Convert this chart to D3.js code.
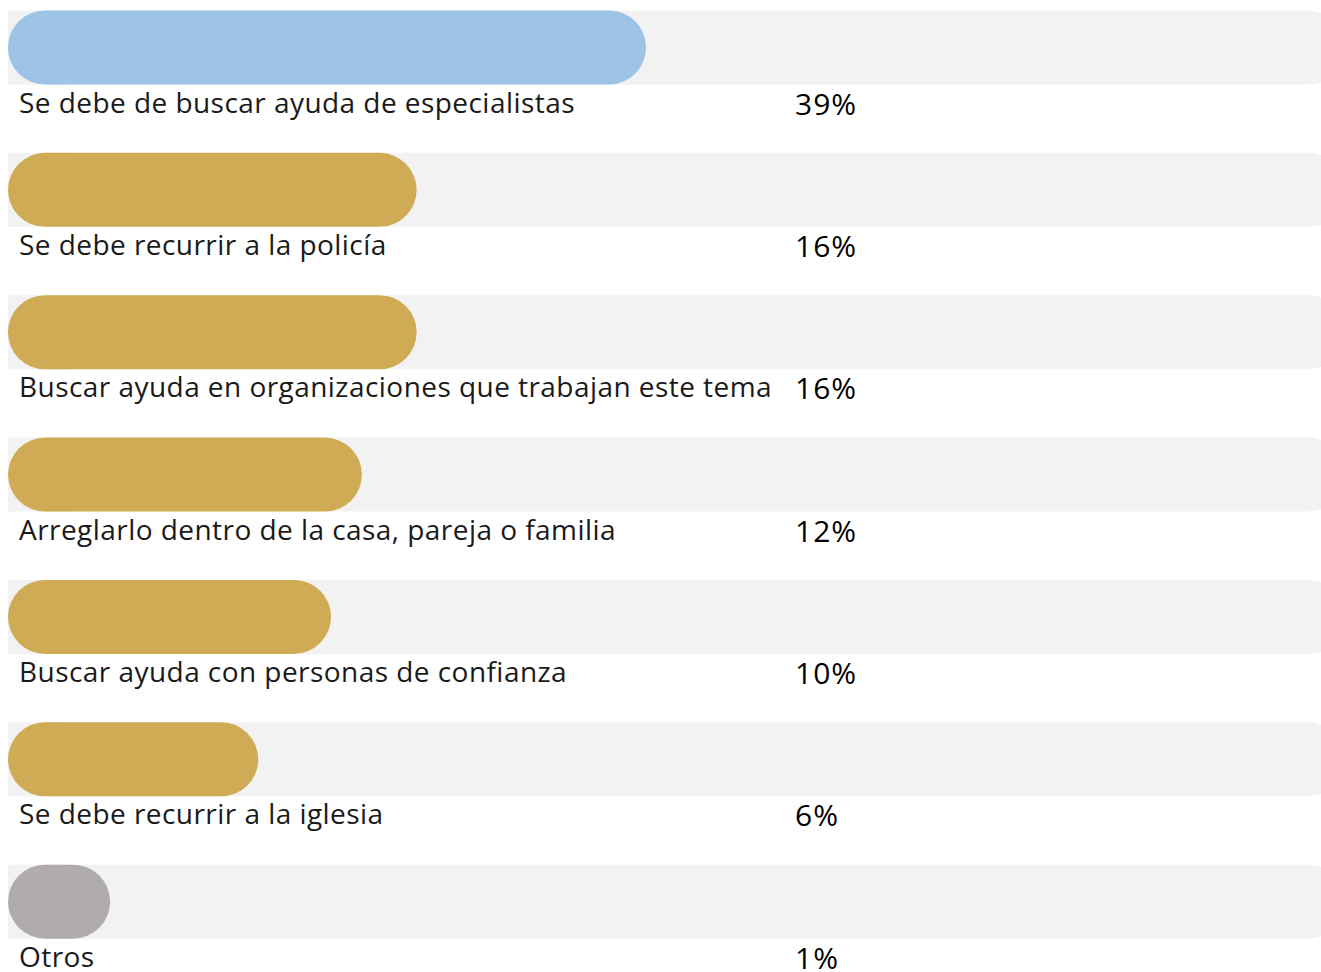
<!DOCTYPE html>
<html>
<head>
<meta charset="utf-8">
<script src="https://cdn.jsdelivr.net/npm/d3@7"></script>
<style>
  html, body { margin: 0; padding: 0; background: #fff; overflow: hidden; }
  svg { display: block; }
  .label { font-family: "Open Sans", "Noto Sans", sans-serif; font-size: 28px; letter-spacing: 0.45px; fill: #1a1a1a; }
  .pct { font-family: "Open Sans", "Noto Sans", sans-serif; font-size: 30px; letter-spacing: 1px; fill: #000; font-weight: 500; }
</style>
</head>
<body>
<svg id="chart" width="1321" height="972"></svg>
<script>
// Answers, in display order
const categories = [
  "Se debe de buscar ayuda de especialistas",
  "Se debe recurrir a la policía",
  "Buscar ayuda en organizaciones que trabajan este tema",
  "Arreglarlo dentro de la casa, pareja o familia",
  "Buscar ayuda con personas de confianza",
  "Se debe recurrir a la iglesia",
  "Otros"
];
const values = [39, 16, 16, 12, 10, 6, 1];
const valueLabels = ["39%", "16%", "16%", "12%", "10%", "6%", "1%"];
const barColors = ["#9dc3e6", "#d0ab55", "#d0ab55", "#d0ab55", "#d0ab55", "#d0ab55", "#b0acac"];

const left = 8;
const barH = 74;
const trackEnd = 1345;

const svg = d3.select("#chart");

// vertical placement of each row (top of bar)
const y = d3.scaleBand()
  .domain(categories)
  .range([10.5, 10.5 + 142.36 * categories.length])
  .paddingInner(0)
  .paddingOuter(0);

// bar length
const x = d3.scaleSqrt()
  .domain([0, d3.max(values)])
  .range([0, 638]);

const rows = svg.selectAll("g.row")
  .data(categories.map((c, i) => ({ c, v: values[i], lab: valueLabels[i], col: barColors[i] })))
  .join("g")
  .attr("class", "row")
  .attr("transform", d => `translate(0,${y(d.c)})`);

// background track
rows.append("rect")
  .attr("x", left)
  .attr("y", 0)
  .attr("width", trackEnd - left)
  .attr("height", barH)
  .attr("rx", 37)
  .attr("ry", 37)
  .attr("fill", "#f2f2f2");

// square off the track's left end (hidden under the bar)
rows.append("rect")
  .attr("x", left)
  .attr("y", 0)
  .attr("width", 60)
  .attr("height", barH)
  .attr("fill", "#f2f2f2");

// value bar
rows.append("rect")
  .attr("x", left)
  .attr("y", 0)
  .attr("width", d => x(d.v))
  .attr("height", barH)
  .attr("rx", d => Math.min(37, x(d.v) / 2))
  .attr("ry", 37)
  .attr("fill", d => d.col);

rows.append("text")
  .attr("class", "label")
  .attr("x", 19)
  .attr("y", barH + 28)
  .text(d => d.c);

rows.append("text")
  .attr("class", "pct")
  .attr("x", 795)
  .attr("y", barH + 30)
  .text(d => d.lab);
</script>
</body>
</html>
